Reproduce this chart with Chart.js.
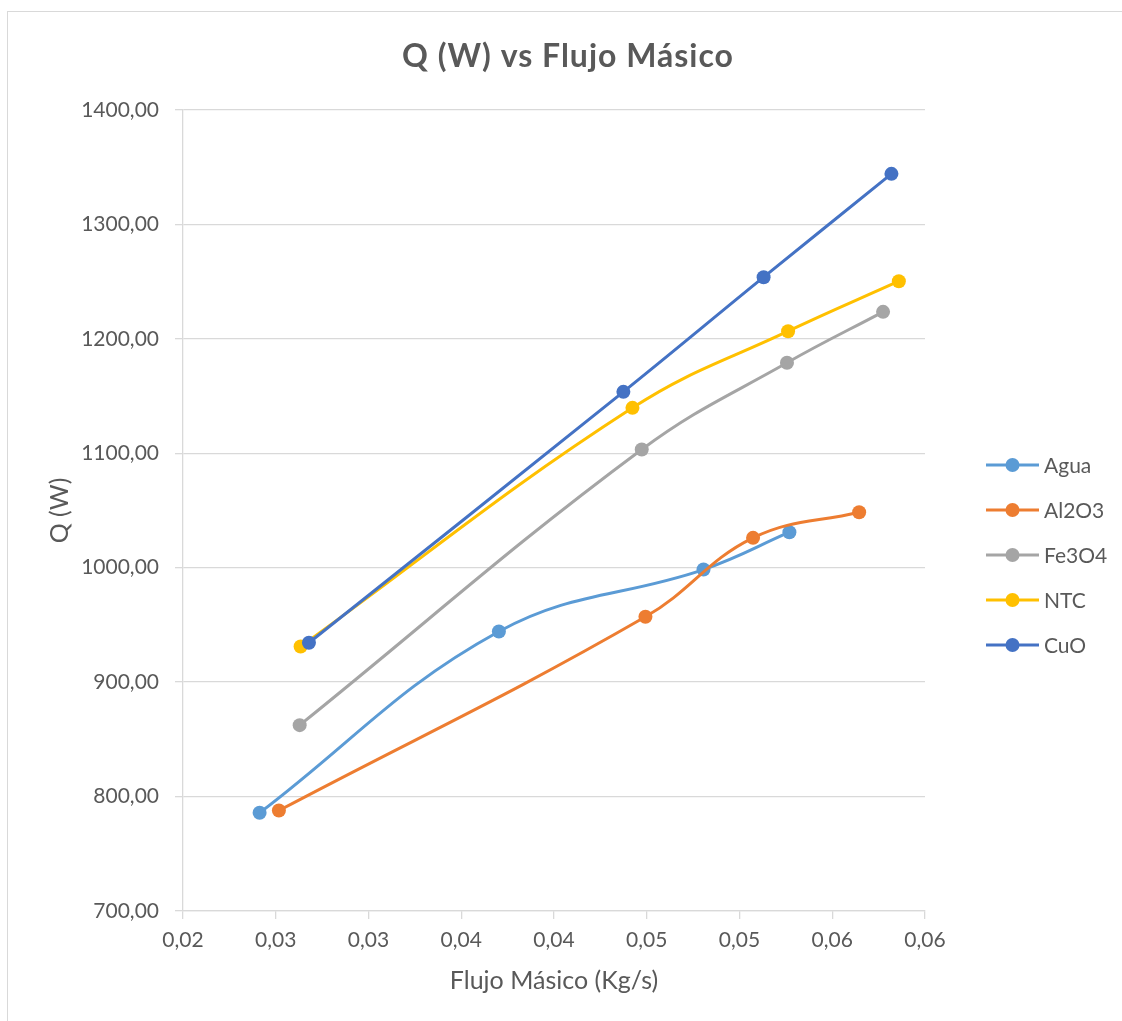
<!DOCTYPE html>
<html lang="es">
<head>
    <meta charset="UTF-8">
    <title>Q (W) vs Flujo Másico</title>
    <script src="https://cdn.jsdelivr.net/npm/chart.js"></script>
    <style>
        html, body { margin: 0; padding: 0; background: #fff; overflow: hidden; }
        #wrap { position: relative; width: 1122px; height: 1021px; }
        #frame { position: absolute; left: 7px; top: 11px; width: 1200px; height: 1100px; border: 1px solid #d9d9d9; box-sizing: border-box; }
        #chart { position: absolute; left: 0; top: 0; }
    </style>
</head>
<body>
<div id="wrap">
    <div id="frame"></div>
    <canvas id="chart" width="1122" height="1021"></canvas>
</div>

<script>
    // Series data: mass flow (kg/s) against heat rate Q (W)
    const seriesNames = ['Agua', 'Al2O3', 'Fe3O4', 'NTC', 'CuO'];
    const seriesColors = ['#5B9BD5', '#ED7D31', '#A5A5A5', '#FFC000', '#4472C4'];

    const aguaFlow = [0.02413, 0.03703, 0.04806, 0.05269];
    const aguaQ = [785.8, 944.3, 998.4, 1031.0];

    const al2o3Flow = [0.02517, 0.04493, 0.05073, 0.05645];
    const al2o3Q = [787.8, 957.1, 1026.1, 1048.5];

    const fe3o4Flow = [0.02629, 0.04473, 0.05256, 0.05774];
    const fe3o4Q = [862.4, 1103.3, 1179.1, 1223.6];

    const ntcFlow = [0.02634, 0.04423, 0.05262, 0.05859];
    const ntcQ = [931.1, 1139.7, 1206.7, 1250.4];

    const cuoFlow = [0.02679, 0.04374, 0.05130, 0.05819];
    const cuoQ = [934.4, 1153.7, 1253.9, 1344.2];

    // Axis tick labels (Excel-style rounding, comma decimal)
    const xTickLabels = ['0,02', '0,03', '0,03', '0,04', '0,04', '0,05', '0,05', '0,06', '0,06'];
    const yTickLabels = ['700,00', '800,00', '900,00', '1000,00', '1100,00', '1200,00', '1300,00', '1400,00'];

    const chartTitle = 'Q (W) vs Flujo Másico';

    const flows = [aguaFlow, al2o3Flow, fe3o4Flow, ntcFlow, cuoFlow];
    const heats = [aguaQ, al2o3Q, fe3o4Q, ntcQ, cuoQ];

    const FONT = 'Lato, "Open Sans", sans-serif';
    const TEXT = '#595959';
    const GRID = '#d9d9d9';

    const datasets = seriesNames.map((name, i) => ({
        label: name,
        data: flows[i].map((x, j) => ({ x: x, y: heats[i][j] })),
        showLine: true,
        borderColor: seriesColors[i],
        backgroundColor: seriesColors[i],
        borderWidth: 3,
        pointRadius: 7,
        pointHoverRadius: 7,
        pointBorderWidth: 0,
        tension: 0.4,
        order: seriesNames.length - i, // later series drawn on top
    }));

    // Title centred on the whole canvas, legend on the right (line + dot + name)
    const decorations = {
        id: 'decorations',
        afterDraw(chart) {
            const ctx = chart.ctx;
            ctx.save();

            ctx.fillStyle = TEXT;
            ctx.font = 'bold 32px ' + FONT;
            ctx.letterSpacing = '1px';
            ctx.textAlign = 'center';
            ctx.textBaseline = 'middle';
            ctx.fillText(chartTitle, 568, 57);
            ctx.letterSpacing = '0px';

            const x0 = 986, x1 = 1039, top = 465, step = 45;
            chart.data.datasets.forEach((ds, i) => {
                const y = top + i * step;
                ctx.strokeStyle = ds.borderColor;
                ctx.lineWidth = 3;
                ctx.beginPath();
                ctx.moveTo(x0, y);
                ctx.lineTo(x1, y);
                ctx.stroke();
                ctx.fillStyle = ds.backgroundColor;
                ctx.beginPath();
                ctx.arc((x0 + x1) / 2, y, 7, 0, Math.PI * 2);
                ctx.fill();
                ctx.fillStyle = TEXT;
                ctx.font = '21px ' + FONT;
                ctx.textBaseline = 'middle';
                ctx.textAlign = 'left';
                ctx.fillText(ds.label, 1044, y + 1);
            });
            ctx.restore();
        }
    };

    const ctx = document.getElementById('chart').getContext('2d');
    const chart = new Chart(ctx, {
        type: 'scatter',
        data: { datasets: datasets },
        plugins: [decorations],
        options: {
            responsive: false,
            animation: false,
            layout: { padding: { left: 0, right: 197, top: 110, bottom: 0 } },
            plugins: {
                legend: { display: false },
                tooltip: { enabled: false },
                title: { display: false },
            },
            scales: {
                x: {
                    type: 'linear',
                    min: 0.02,
                    max: 0.06,
                    afterFit(scale) { scale.height = 110; },
                    afterBuildTicks(scale) {
                        scale.ticks = xTickLabels.map((_, i) => ({ value: 0.02 + i * 0.005 }));
                    },
                    ticks: {
                        color: TEXT,
                        font: { family: FONT, size: 21 },
                        padding: 9,
                        maxRotation: 0,
                        autoSkip: false,
                        callback: (v, i) => xTickLabels[i],
                    },
                    grid: { drawOnChartArea: false, drawTicks: true, tickLength: 8, color: GRID, lineWidth: 1.3 },
                    border: { color: GRID, width: 1.3 },
                    title: {
                        display: true,
                        text: 'Flujo Másico (Kg/s)',
                        color: TEXT,
                        font: { family: FONT, size: 25 },
                        padding: { top: 0, bottom: 25 },
                    },
                },
                y: {
                    min: 700,
                    max: 1400,
                    afterFit(scale) { scale.width = 183; },
                    afterBuildTicks(scale) {
                        scale.ticks = yTickLabels.map((_, i) => ({ value: 700 + i * 100 }));
                    },
                    ticks: {
                        color: TEXT,
                        font: { family: FONT, size: 21 },
                        padding: 16,
                        autoSkip: false,
                        callback: (v, i) => yTickLabels[i],
                    },
                    grid: { color: GRID, lineWidth: 1.3, tickLength: 8 },
                    border: { color: GRID, width: 1.3 },
                    title: {
                        display: true,
                        text: 'Q (W)',
                        color: TEXT,
                        font: { family: FONT, size: 25 },
                        padding: { top: 45, bottom: 0 },
                    },
                },
            },
        },
    });
</script>
</body>
</html>
